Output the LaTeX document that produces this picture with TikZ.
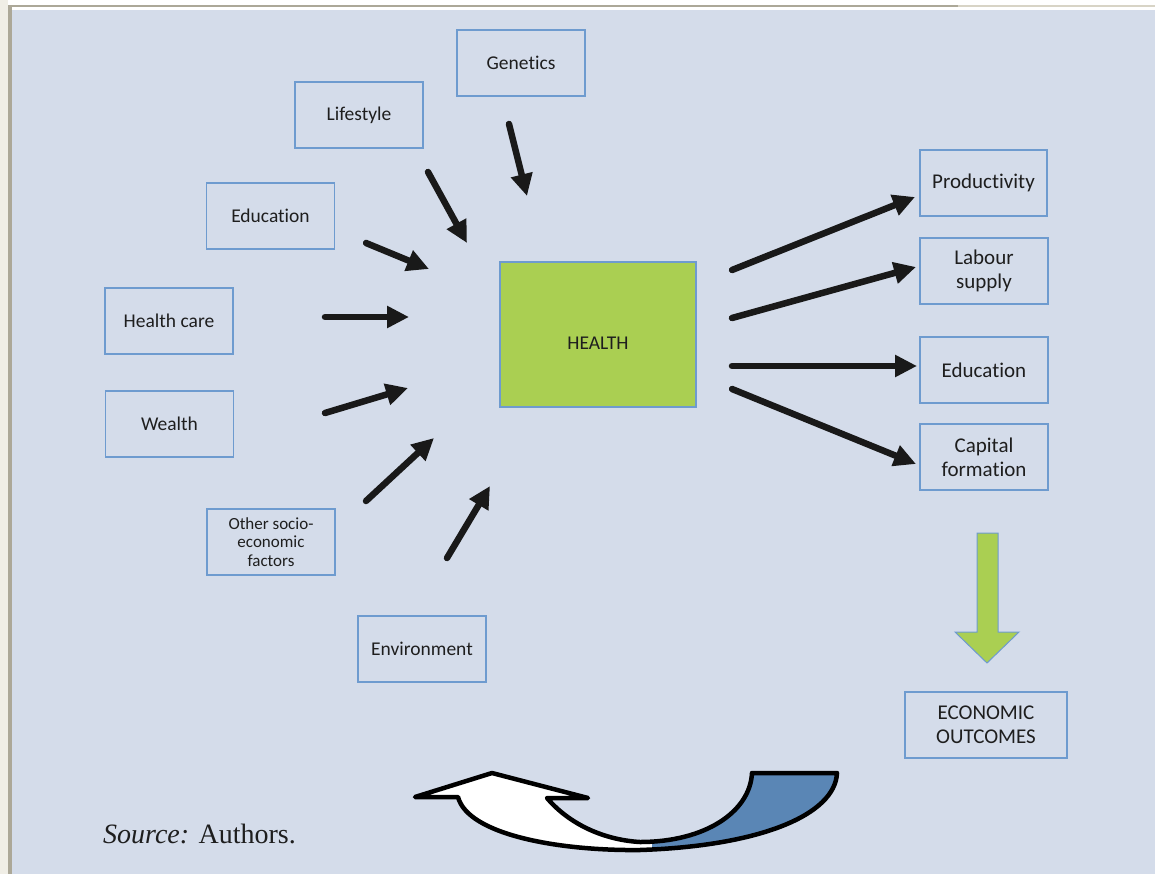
\documentclass[tikz,border=0pt]{standalone}
\usepackage{fontspec}
\setmainfont{Carlito}[Ligatures=NoCommon]
\newfontfamily\srcfont{Liberation Serif}
\usetikzlibrary{arrows.meta}
\definecolor{bgblue}{HTML}{D4DCEA}
\definecolor{boxblue}{HTML}{6E9BCF}
\definecolor{hgreen}{HTML}{AACF52}
\definecolor{tailblue}{HTML}{5A86B5}
\definecolor{txt}{HTML}{1E1E1E}
\definecolor{framegrey}{HTML}{ACA898}
\definecolor{framelight}{HTML}{D8D4C6}
\definecolor{outerbeige}{HTML}{F0EEE6}
\tikzset{
  box/.style={draw=boxblue, line width=1.3pt, minimum width=128pt, minimum height=66pt,
    align=center, inner sep=0pt, text=txt, font=\fontsize{19.5}{24}\selectfont},
  flow/.style={line width=6.5pt, line cap=round, draw=black!90,
    -{Triangle[length=22pt,width=21pt]}},
}
\begin{document}
\begin{tikzpicture}[x=1pt,y=-1pt]
\useasboundingbox (0,0) rectangle (1155,874);
% outer frame
\fill[white] (0,0) rectangle (1155,874);
\fill[outerbeige] (0,0) rectangle (8,874);
\fill[framegrey] (8,5) rectangle (12,874);
\fill[framegrey] (8,5) rectangle (958,7.5);
\fill[framelight] (958,5) rectangle (1155,7.5);
\fill[bgblue] (12,10) rectangle (1155,874);

% boxes
\node[box] (genetics) at (521,63) {Genetics};
\node[box] (lifestyle) at (359,115) {Lifestyle};
\node[box] (educL) at (270.5,216) {Education};
\node[box] (healthcare) at (169,321) {Health care};
\node[box] (wealth) at (169.5,424) {Wealth};
\node[box, font=\fontsize{17}{18.5}\selectfont] (other) at (271,542) {Other socio-\\economic\\factors};
\node[box] (environment) at (422,649) {Environment};
\node[box, fill=hgreen, minimum width=196pt, minimum height=145pt] (health) at (598,334.5) {};
\node[inner sep=0pt, text=txt, font=\fontsize{19.5}{24}\selectfont] (healthtext) at (598,343) {HEALTH};
\node[box, minimum width=127pt, font=\fontsize{21}{24}\selectfont] (productivity) at (983.5,183) {Productivity};
\node[box, font=\fontsize{21}{24}\selectfont] (labour) at (984,271) {Labour\\supply};
\node[box, font=\fontsize{21}{24}\selectfont] (educR) at (984,370) {Education};
\node[box, font=\fontsize{21}{24}\selectfont] (capital) at (984,457) {Capital\\formation};
\node[box, minimum width=162pt, font=\fontsize{21}{24}\selectfont] (econ) at (986,725) {ECONOMIC\\OUTCOMES};

% incoming arrows (free-floating)
\coordinate (g1) at (509,124); \coordinate (g2) at (527,196);
\coordinate (l1) at (428,172); \coordinate (l2) at (467,243);
\coordinate (e1) at (366,243); \coordinate (e2) at (429,269);
\coordinate (h1) at (325,317); \coordinate (h2) at (409,317);
\coordinate (w1) at (325,413); \coordinate (w2) at (408,388);
\coordinate (o1) at (366,501); \coordinate (o2) at (434,438);
\coordinate (n1) at (447,558); \coordinate (n2) at (490,486);
\foreach \a/\b in {g1/g2,l1/l2,e1/e2,h1/h2,w1/w2,o1/o2,n1/n2}
  \draw[flow] (\a) -- (\b);

% outgoing arrows
\coordinate (r1) at (732,270); \coordinate (r1e) at (915,197);
\coordinate (r2) at (732,318); \coordinate (r2e) at (916,267);
\coordinate (r3) at (732,366); \coordinate (r3e) at (917,366);
\coordinate (r4) at (732,389); \coordinate (r4e) at (916,464);
\foreach \a/\b in {r1/r1e,r2/r2e,r3/r3e,r4/r4e}
  \draw[flow] (\a) -- (\b);

% green down arrow
\draw[boxblue, line width=1pt, fill=hgreen, line join=miter]
  (977,533) -- (998,533) -- (998,632) -- (1019,632) -- (987,663) -- (955,632) -- (977,632) -- cycle;

% curved feedback arrow
\def\fbpath{(752,773) -- (837,773)
  .. controls (835,815) and (760,846) .. (640,850)
  .. controls (560,851) and (468,835) .. (458,797)
  -- (415,797) -- (492,773) -- (588,798) -- (547,798)
  .. controls (570,825) and (605,840) .. (640,842)
  .. controls (705,842) and (750,812) .. (752,773) -- cycle}
\fill[white] \fbpath;
\begin{scope}
  \clip (652,760) rectangle (860,860);
  \fill[tailblue] \fbpath;
\end{scope}
\draw[black, line width=4.5pt, line join=round] \fbpath;

% source
\node[anchor=base west, inner sep=0pt, text=txt, font=\srcfont\fontsize{28}{30}\selectfont] (source) at (103,843) {\textit{Source:} Authors.};
\end{tikzpicture}
\end{document}
